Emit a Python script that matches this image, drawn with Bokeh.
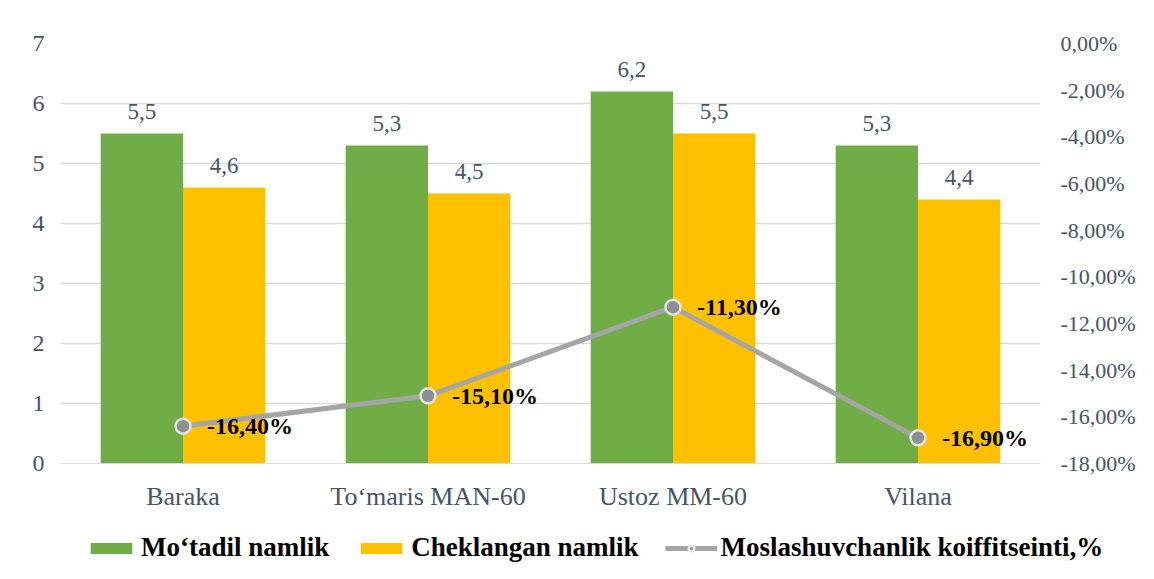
from bokeh.plotting import figure
from bokeh.layouts import column
from bokeh.models import (ColumnDataSource, FactorRange, Range1d, LinearAxis, FixedTicker,
                          Legend, LegendItem)
from bokeh.transform import dodge
from bokeh.embed import file_html
from bokeh.resources import INLINE

categories = ["Baraka", "To\u2018maris MAN-60", "Ustoz MM-60", "Vilana"]
motadil = [5.5, 5.3, 6.2, 5.3]
cheklangan = [4.6, 4.5, 5.5, 4.4]
koeff = [-16.4, -15.1, -11.3, -16.9]
left_ticks = [0, 1, 2, 3, 4, 5, 6, 7]
right_ticks = [0, -2, -4, -6, -8, -10, -12, -14, -16, -18]
series_names = ["Mo\u2018tadil namlik", "Cheklangan namlik", "Moslashuvchanlik koiffitseinti,%"]

def fmt1(v):
    return f"{v:.1f}".replace(".", ",")

def fmtp(v):
    return f"{v:.2f}%".replace(".", ",")

src = ColumnDataSource(dict(
    cat=categories, m=motadil, c=cheklangan, k=koeff,
    ml=[fmt1(v) for v in motadil], cl=[fmt1(v) for v in cheklangan],
    kl=[fmtp(v) for v in koeff],
))

FONT = "Liberation Serif"
SLATE = "#44546A"
GREEN = "#70AD47"
YELLOW = "#FFC000"
GRAY = "#A5A5A5"

xr = FactorRange(*categories, range_padding=0)
p = figure(width=1138, height=528, x_range=xr,
           y_range=Range1d(0, 7), output_backend="svg", toolbar_location=None,
           min_border_left=60, min_border_right=90, min_border_top=43, min_border_bottom=65)
p.frame_align = False
p.outline_line_color = None
p.background_fill_color = "white"
p.border_fill_color = "white"
p.extra_y_ranges = {"pct": Range1d(-18, 0)}

# axes
p.yaxis.ticker = FixedTicker(ticks=left_ticks)
p.yaxis.axis_line_color = None
p.yaxis.major_tick_line_color = None
p.yaxis.minor_tick_line_color = None
p.yaxis.major_label_text_font = FONT
p.yaxis.major_label_text_font_size = "24px"
p.yaxis.major_label_text_color = SLATE
p.yaxis.major_label_standoff = 10

ax2 = LinearAxis(y_range_name="pct", ticker=FixedTicker(ticks=right_ticks),
                 major_label_overrides={t: fmtp(t) for t in right_ticks})
ax2.axis_line_color = None
ax2.major_tick_line_color = None
ax2.minor_tick_line_color = None
ax2.major_label_text_font = FONT
ax2.major_label_text_font_size = "22px"
ax2.major_label_text_color = SLATE
ax2.major_label_standoff = 14
p.add_layout(ax2, "right")

p.xaxis.axis_line_color = "#D9D9D9"
p.xaxis.major_tick_line_color = None
p.xaxis.minor_tick_line_color = None
p.xaxis.major_label_text_font = FONT
p.xaxis.major_label_text_font_size = "26px"
p.xaxis.major_label_text_color = SLATE
p.xaxis.major_label_standoff = 12

p.xgrid.grid_line_color = None
p.ygrid.grid_line_color = "#D9D9D9"
p.ygrid.grid_line_width = 1.5

# bars
p.vbar(x=dodge("cat", -0.168, range=xr), top="m", width=0.336, source=src,
       fill_color=GREEN, line_color=None)
p.vbar(x=dodge("cat", 0.168, range=xr), top="c", width=0.336, source=src,
       fill_color=YELLOW, line_color=None)

p.text(x=dodge("cat", -0.168, range=xr), y="m", text="ml", source=src,
       text_align="center", text_baseline="alphabetic", y_offset=-22,
       text_font=FONT, text_font_size="23px", text_color=SLATE)
p.text(x=dodge("cat", 0.168, range=xr), y="c", text="cl", source=src,
       text_align="center", text_baseline="alphabetic", y_offset=-22,
       text_font=FONT, text_font_size="23px", text_color=SLATE)

# line
p.line(x="cat", y="k", source=src, y_range_name="pct", line_color=GRAY, line_width=5)
p.scatter(x="cat", y="k", source=src, y_range_name="pct", size=15,
          fill_color="#8F8F8F", line_color="#E4E4E4", line_width=2.5)
p.text(x="cat", y="k", text="kl", source=src, y_range_name="pct",
       text_align="left", text_baseline="middle", x_offset=24, y_offset=0,
       text_font=FONT, text_font_size="24px", text_font_style="bold", text_color="black")

# legend strip: a second, axis-less figure; its series are the same data but lie outside its view
lg = figure(width=1138, height=35, x_range=xr, y_range=Range1d(100, 101),
            x_axis_type=None, y_axis_type=None,
            output_backend="svg", toolbar_location=None,
            min_border_left=0, min_border_right=0, min_border_top=0, min_border_bottom=0)
lg.frame_align = False
lg.grid.visible = False
lg.outline_line_color = None
lg.extra_y_ranges = {"pct": Range1d(100, 101)}
g1 = lg.vbar(x="cat", top="m", width=0.3, source=src, fill_color=GREEN, line_color=None)
g2 = lg.vbar(x="cat", top="c", width=0.3, source=src, fill_color=YELLOW, line_color=None)
g3 = lg.line(x="cat", y="k", source=src, y_range_name="pct", line_color=GRAY, line_width=5)
g4 = lg.scatter(x="cat", y="k", source=src, y_range_name="pct", size=15, fill_color="#8F8F8F",
                line_color="#E4E4E4", line_width=2.5)
legend = Legend(items=[
    LegendItem(label=series_names[0], renderers=[g1]),
    LegendItem(label=series_names[1], renderers=[g2]),
    LegendItem(label=series_names[2], renderers=[g3, g4]),
], orientation="horizontal", location=(85, 0), glyph_width=52, glyph_height=14,
    label_text_font=FONT, label_text_font_style="bold", label_text_font_size="27px",
    label_text_color="black", spacing=26, label_standoff=4, border_line_color=None,
    background_fill_alpha=0, padding=0, margin=0)
lg.add_layout(legend)

layout = column(p, lg, spacing=0)
open("out.html", "w").write(file_html(layout, INLINE))
